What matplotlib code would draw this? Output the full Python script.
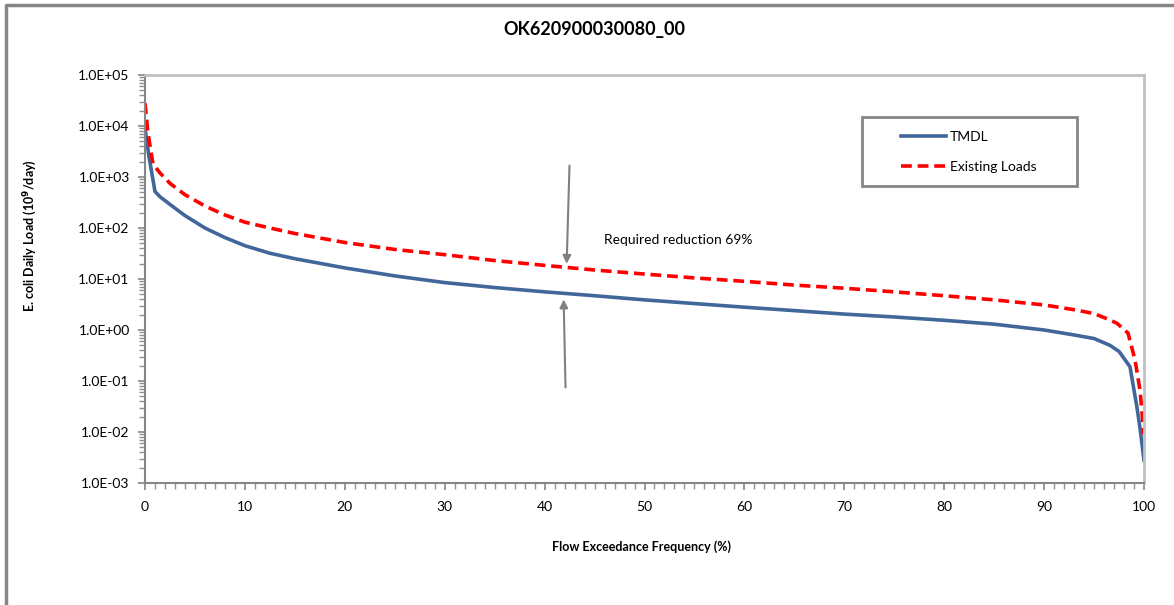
import numpy as np
import matplotlib.pyplot as plt
from matplotlib.ticker import FuncFormatter, MultipleLocator, FixedLocator
from matplotlib.patches import Rectangle
from matplotlib.lines import Line2D

plt.rcParams['font.family'] = ['Lato', 'DejaVu Sans']

# Curva di durata dei carichi
flow_pct = [0, 0.4, 1.0, 1.5, 2.5, 4, 6, 8, 10, 12.5, 15, 20, 25, 30, 35, 40, 45,
            50, 55, 60, 65, 70, 75, 80, 85, 90, 93, 95, 96.6, 97.5, 98.6, 99.3,
            99.6, 100]
tmdl = [9000, 2500, 520, 410, 290, 175, 100, 65, 45, 32, 25, 16.5, 11.5, 8.5,
        6.8, 5.6, 4.7, 3.9, 3.3, 2.8, 2.4, 2.05, 1.8, 1.55, 1.3, 1.0, 0.8, 0.68,
        0.5, 0.38, 0.19, 0.03, 0.012, 0.0028]

flow_pct_ex = [0, 0.3, 0.8, 1.5, 2.5, 4, 6, 8, 10, 12.5, 15, 20, 25, 30, 35, 40,
               45, 50, 55, 60, 65, 70, 75, 80, 85, 90, 93, 95, 96.5, 97.3, 98.4,
               99.1, 99.6, 100]
existing = [28000, 7200, 1800, 1200, 750, 450, 270, 180, 130, 100, 78, 52, 38,
            30, 23, 18.5, 15, 12.5, 10.5, 9.0, 7.6, 6.6, 5.6, 4.7, 3.9, 3.1, 2.5,
            2.1, 1.6, 1.35, 0.87, 0.26, 0.066, 0.009]

titolo = 'OK620900030080_00'
riduzione = 'Required reduction 69%'

W, H = 1174, 605
fig = plt.figure(figsize=(W / 100, H / 100), dpi=100)
ax = fig.add_axes([145 / W, 1 - 483 / H, (1144 - 145) / W, (483 - 75) / H])

ax.plot(flow_pct, tmdl, color='#41679a', lw=2.6, label='TMDL',
        solid_joinstyle='round')
ax.plot(flow_pct_ex, existing, color='#ff0000', lw=2.6, ls=(0, (3, 1.6)),
        label='Existing Loads')

ax.set_yscale('log')
ax.set_xlim(0, 100)
ax.set_ylim(1e-3, 1e5)
decadi = 10.0 ** np.arange(-3, 6)
ax.yaxis.set_major_locator(FixedLocator(decadi))
minori = [d * k for d in decadi[:-1] for k in range(2, 10)]
ax.yaxis.set_minor_locator(FixedLocator(minori))
ax.yaxis.set_major_formatter(FuncFormatter(lambda v, p: f'{v:.1E}'))
ax.xaxis.set_major_locator(MultipleLocator(10))
ax.xaxis.set_minor_locator(MultipleLocator(1))

grigio = '#868686'
for s in ['left', 'bottom']:
    ax.spines[s].set_color(grigio)
    ax.spines[s].set_linewidth(1.5)
for s in ['top', 'right']:
    ax.spines[s].set_color('#c0c0c0')
    ax.spines[s].set_linewidth(2)
ax.tick_params(which='major', direction='out', length=5, width=1.2, color=grigio,
               labelsize=10, pad=6)
ax.tick_params(which='minor', direction='out', length=4, width=1, color='#909090')
ax.tick_params(axis='x', pad=8)

# frecce e testo della riduzione
freccia = dict(arrowstyle='-|>', color='#808080', lw=1.5, mutation_scale=12)
ax.annotate('', xy=(42.2, 17.5), xytext=(42.5, 1900), arrowprops=freccia)
ax.annotate('', xy=(41.9, 4.5), xytext=(42.1, 0.066), arrowprops=freccia)
ax.text(45.9, 58, riduzione, fontsize=10, va='center', ha='left')

# titoli
fig.text(594 / W, 1 - 29 / H, titolo, fontsize=13, fontweight='bold',
         ha='center', va='center')
fig.text(641 / W, 1 - 547 / H, 'Flow Exceedance Frequency (%)', fontsize=9,
         fontweight='bold', ha='center', va='center')
fig.text(30 / W, 1 - 236 / H, r'E. coli Daily Load (10$^\mathbf{9}$/day)',
         fontsize=9, fontweight='bold', rotation=90, ha='center', va='center')

# legenda con riquadro
fig.patches.append(Rectangle((862 / W, 1 - 186 / H), (1077 - 862) / W, 69 / H,
                             transform=fig.transFigure, fill=False,
                             edgecolor=grigio, lw=2))
fig.legend(loc='center', bbox_to_anchor=(969 / W, 1 - 152 / H), frameon=False,
           fontsize=10, handlelength=3.2, handletextpad=0.3, labelspacing=1.3)

# bordo esterno
fig.lines.append(Line2D([6 / W, 6 / W, 1.0], [0.0, 1 - 5 / H, 1 - 5 / H],
                        transform=fig.transFigure, color=grigio, lw=2.5))

fig.savefig('out.png', dpi=100)
